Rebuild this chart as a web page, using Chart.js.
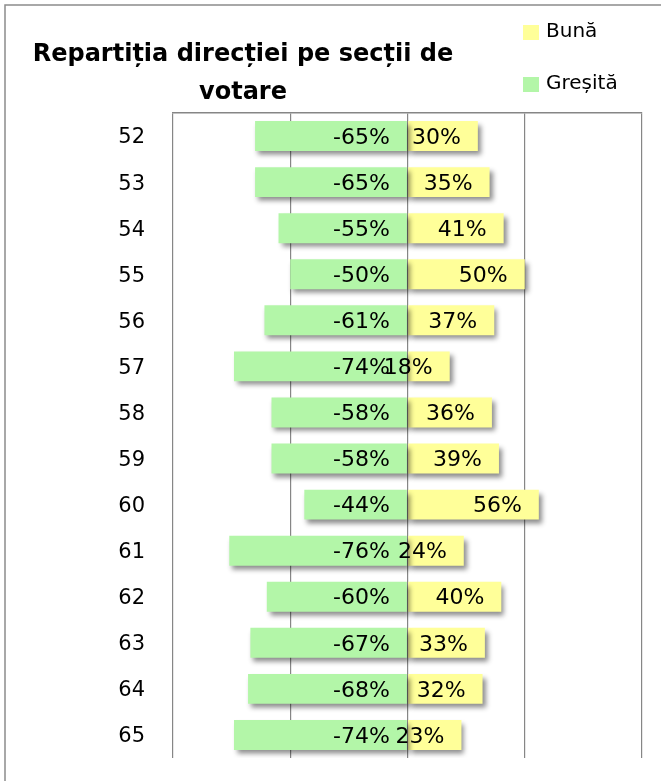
<!DOCTYPE html>
<html lang="ro">
<head>
<meta charset="utf-8">
<title>Repartiția direcției pe secții de votare</title>
<script src="https://cdn.jsdelivr.net/npm/chart.js@4/dist/chart.umd.min.js"></script>
<style>
  html, body { margin: 0; padding: 0; background: #fff; }
</style>
</head>
<body>
<canvas id="graficSectii" width="661" height="781"></canvas>
<script>
// Datele graficului
const sectii = ['52', '53', '54', '55', '56', '57', '58', '59', '60', '61', '62', '63', '64', '65'];
const gresita = [-65, -65, -55, -50, -61, -74, -58, -58, -44, -76, -60, -67, -68, -74];
const buna = [30, 35, 41, 50, 37, 18, 36, 39, 56, 24, 40, 33, 32, 23];
const titlu = ['Repartiția direcției pe secții de', 'votare'];
const numeSerii = ['Bună', 'Greșită'];

const VERDE = '#b3f6a8';
const GALBEN = '#ffff99';
const GRI = '#868686';
const FONT = "'DejaVu Sans', sans-serif";

// Cadru, titlu si legenda
const decor = {
    id: 'decor',
    beforeDraw(chart) {
        const ctx = chart.ctx;
        ctx.save();
        ctx.strokeStyle = '#8c8c8c';
        ctx.lineWidth = 1.5;
        ctx.strokeRect(5, 5, 720, 820);

        ctx.fillStyle = '#000';
        ctx.font = 'bold 24px ' + FONT;
        ctx.textAlign = 'center';
        ctx.textBaseline = 'alphabetic';
        ctx.fillText(titlu[0], 243, 61);
        ctx.fillText(titlu[1], 243, 99);

        // legenda
        const culori = [GALBEN, VERDE];
        const yuri = [32, 84];
        ctx.font = '20px ' + FONT;
        ctx.textAlign = 'left';
        ctx.textBaseline = 'middle';
        numeSerii.forEach((nume, i) => {
            ctx.fillStyle = culori[i];
            ctx.fillRect(523, yuri[i] - 7, 16, 15);
            ctx.fillStyle = '#000';
            ctx.fillText(nume, 546, yuri[i]);
        });
        ctx.restore();
    }
};

// Umbra barelor si etichetele de valori
const umbreEtichete = {
    id: 'umbreEtichete',
    beforeDatasetsDraw(chart) {
        const ctx = chart.ctx;
        ctx.save();
        ctx.shadowColor = 'rgba(0, 0, 0, 0.45)';
        ctx.shadowBlur = 5;
        ctx.shadowOffsetX = 3;
        ctx.shadowOffsetY = 4;
    },
    afterDatasetsDraw(chart) {
        const ctx = chart.ctx;
        ctx.restore();
        ctx.save();
        ctx.fillStyle = '#000';
        ctx.font = '22px ' + FONT;
        ctx.textAlign = 'right';
        ctx.textBaseline = 'middle';
        chart.data.datasets.forEach((ds, i) => {
            chart.getDatasetMeta(i).data.forEach((bar, j) => {
                const dreapta = Math.max(bar.x, bar.base);
                ctx.fillText(ds.data[j] + '%', dreapta - 17, bar.y + 2);
            });
        });
        ctx.restore();
    }
};

const ctx = document.getElementById('graficSectii').getContext('2d');
new Chart(ctx, {
    type: 'bar',
    data: {
        labels: sectii,
        datasets: [
            {
                label: numeSerii[1],
                data: gresita,
                backgroundColor: VERDE,
                borderWidth: 0,
                barPercentage: 0.65,
                categoryPercentage: 1
            },
            {
                label: numeSerii[0],
                data: buna,
                backgroundColor: GALBEN,
                borderWidth: 0,
                barPercentage: 0.65,
                categoryPercentage: 1
            }
        ]
    },
    options: {
        indexAxis: 'y',
        responsive: false,
        animation: false,
        layout: {
            padding: { top: 113, right: 19, bottom: 23, left: 0 }
        },
        plugins: {
            legend: { display: false },
            title: { display: false },
            tooltip: { enabled: false }
        },
        scales: {
            x: {
                position: 'top',
                stacked: true,
                min: -100,
                max: 100,
                ticks: { display: false, stepSize: 50 },
                grid: { color: GRI, lineWidth: 1.2, drawTicks: false },
                border: { display: true, color: GRI, width: 1.5 },
                afterFit(scale) { scale.height = 0; }
            },
            y: {
                stacked: true,
                grid: { display: false, drawTicks: false },
                border: { display: false },
                ticks: {
                    color: '#000',
                    padding: 28,
                    labelOffset: 2,
                    font: { family: FONT, size: 21 }
                },
                afterFit(scale) {
                    scale.width = 173;
                    // fara spatiu suplimentar sus/jos
                    scale.paddingTop = 0;
                    scale.paddingBottom = 0;
                }
            }
        }
    },
    plugins: [decor, umbreEtichete]
});
</script>
</body>
</html>
